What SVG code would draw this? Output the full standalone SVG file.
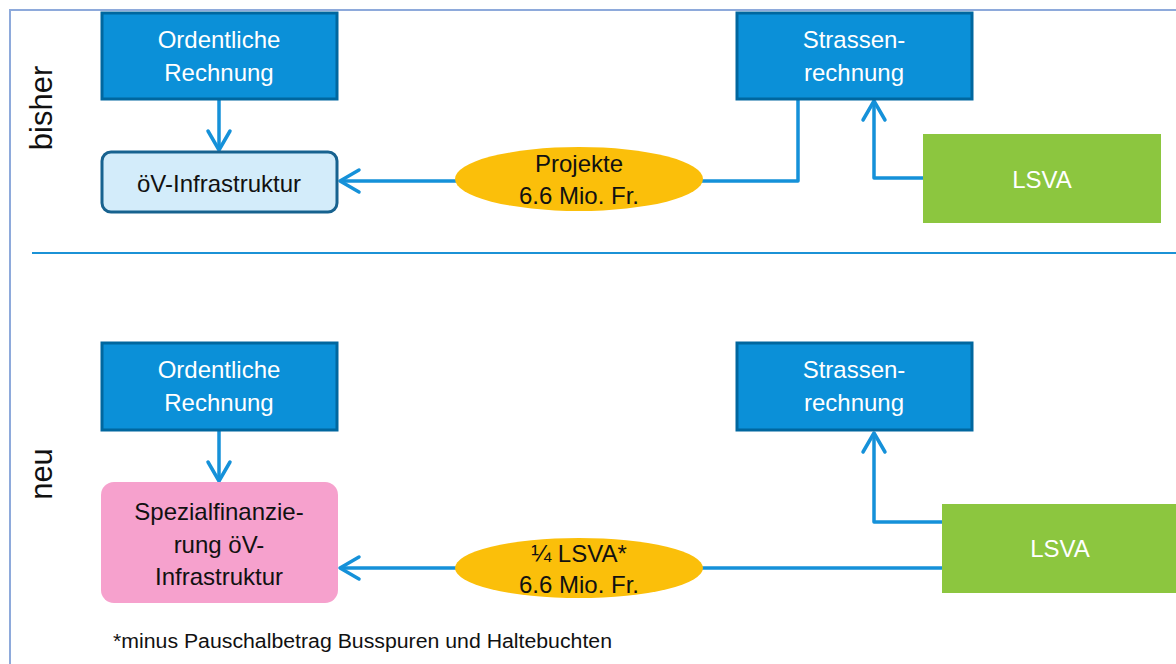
<svg xmlns="http://www.w3.org/2000/svg" width="1176" height="664" viewBox="0 0 1176 664">
<style>
text{font-family:"Liberation Sans",Arial,sans-serif;font-size:24px;text-anchor:middle}
.w{fill:#ffffff}
.k{fill:#111111}
.blue{fill:#0b90d8;stroke:#00679f;stroke-width:3}
.conn{fill:none;stroke:#1591d9;stroke-width:3.5;stroke-linejoin:round}
.side{font-size:31px;fill:#111}
</style>
<defs>
<marker id="arr" markerUnits="userSpaceOnUse" viewBox="-23 -14 26 28" markerWidth="26" markerHeight="28" refX="0" refY="0" orient="auto">
<path d="M-19,-11 L0,0 L-19,11" fill="none" stroke="#1591d9" stroke-width="3.5" stroke-linecap="round" stroke-linejoin="round"/>
</marker>
</defs>
<rect width="1176" height="664" fill="#ffffff"/>
<path d="M10,664 L10,10 L1176,10" fill="none" stroke="#8eaadb" stroke-width="2"/>
<line x1="32" y1="253" x2="1176" y2="253" stroke="#1b92d6" stroke-width="2"/>
<text class="side" transform="translate(52,108) rotate(-90)">bisher</text>
<text class="side" transform="translate(52,474) rotate(-90)">neu</text>

<g id="connectors">
<path class="conn" d="M219,99 L219,150" marker-end="url(#arr)"/>
<path class="conn" d="M798,99 L798,181 L340,181" marker-end="url(#arr)"/>
<path class="conn" d="M923,178 L874,178 L874,101" marker-end="url(#arr)"/>
<path class="conn" d="M219,431 L219,481" marker-end="url(#arr)"/>
<path class="conn" d="M942,568 L340,568" marker-end="url(#arr)"/>
<path class="conn" d="M942,522 L874,522 L874,433" marker-end="url(#arr)"/>
</g>

<g id="ordentliche1">
<rect class="blue" x="102" y="13" width="235" height="86"/>
<text class="w" x="219" y="48">Ordentliche</text>
<text class="w" x="219" y="81">Rechnung</text>
</g>
<g id="strassen1">
<rect class="blue" x="737" y="13" width="235" height="86"/>
<text class="w" x="854" y="48">Strassen-</text>
<text class="w" x="854" y="81">rechnung</text>
</g>
<g id="oev1">
<rect x="102" y="152" width="235" height="60" rx="9" fill="#d3ecfa" stroke="#17628f" stroke-width="3"/>
<text class="k" x="219" y="192">öV-Infrastruktur</text>
</g>
<g id="projekte">
<ellipse cx="579" cy="179" rx="124" ry="32" fill="#fbbf0a"/>
<text class="k" x="579" y="172">Projekte</text>
<text class="k" x="579" y="204">6.6 Mio. Fr.</text>
</g>
<g id="lsva1">
<rect x="923" y="134" width="238" height="89" fill="#8cc63f"/>
<text class="w" x="1042" y="188">LSVA</text>
</g>

<g id="ordentliche2">
<rect class="blue" x="102" y="343" width="235" height="87"/>
<text class="w" x="219" y="378">Ordentliche</text>
<text class="w" x="219" y="411">Rechnung</text>
</g>
<g id="strassen2">
<rect class="blue" x="737" y="343" width="235" height="87"/>
<text class="w" x="854" y="378">Strassen-</text>
<text class="w" x="854" y="411">rechnung</text>
</g>
<g id="spezial">
<rect x="101" y="482" width="237" height="121" rx="13" fill="#f6a1cd"/>
<text class="k" x="219" y="520">Spezialfinanzie-</text>
<text class="k" x="219" y="553">rung öV-</text>
<text class="k" x="219" y="585">Infrastruktur</text>
</g>
<g id="lsvaanteil">
<ellipse cx="579" cy="568" rx="124" ry="30" fill="#fbbf0a"/>
<text class="k" x="579" y="562">¼ LSVA*</text>
<text class="k" x="579" y="593">6.6 Mio. Fr.</text>
</g>
<g id="lsva2">
<rect x="942" y="504" width="240" height="89" fill="#8cc63f"/>
<text class="w" x="1060" y="557">LSVA</text>
</g>

<text x="113" y="648" style="text-anchor:start;font-size:20px" fill="#111" textLength="499" lengthAdjust="spacingAndGlyphs">*minus Pauschalbetrag Busspuren und Haltebuchten</text>
</svg>
